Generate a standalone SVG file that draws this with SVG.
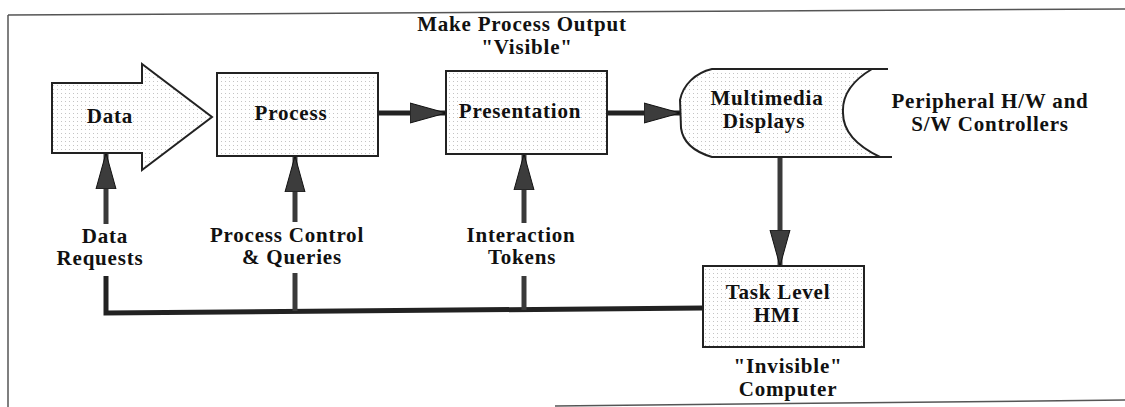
<svg xmlns="http://www.w3.org/2000/svg" width="1125" height="407" viewBox="0 0 1125 407">
  <defs>
    <!-- light stipple used to fill the blocks -->
    <pattern id="stipple" width="4" height="4" patternUnits="userSpaceOnUse">
      <rect width="4" height="4" fill="#ffffff"/>
      <rect x="1" y="1" width="1" height="1" fill="#c4c4c4"/>
    </pattern>
    <marker id="head" markerUnits="userSpaceOnUse" markerWidth="37" markerHeight="22" refX="36" refY="11" orient="auto" viewBox="0 0 37 22">
      <path d="M0,1 L36,11 L0,21 Z" fill="#3c3c3c" stroke="#111" stroke-width="1"/>
    </marker>
  </defs>
  <style>
    .lbl { font-family: "Liberation Serif", "Times New Roman", serif; font-weight: bold; font-size: 21px; letter-spacing: 0.8px; fill: #111; text-anchor: middle; }
    .box { fill: url(#stipple); stroke: #222; stroke-width: 2; }
    .frame { fill: none; stroke: #555; stroke-width: 1.5; }
    .wire { fill: none; stroke: #222; stroke-width: 5; }
    .feed { fill: none; stroke: #3a3a3a; stroke-width: 5; }
  </style>

  <!-- outer frame -->
  <g id="frame">
    <line class="frame" x1="8" y1="15" x2="1125" y2="9"/>
    <line class="frame" x1="8" y1="15" x2="8" y2="407"/>
    <line class="frame" x1="555" y1="406" x2="1125" y2="400"/>
  </g>

  <!-- connectors -->
  <g id="connectors">
    <line class="wire" x1="378" y1="113" x2="446" y2="113" marker-end="url(#head)"/>
    <line class="wire" x1="607" y1="113" x2="680" y2="113" marker-end="url(#head)"/>
    <line class="feed" x1="780" y1="157" x2="780" y2="266" marker-end="url(#head)"/>
    <!-- request bus -->
    <polyline class="wire" points="106,276 106,313 703,308"/>
    <line class="feed" x1="295" y1="311" x2="295" y2="273"/>
    <line class="feed" x1="524" y1="310" x2="524" y2="276"/>
    <!-- upward feeds above the labels -->
    <line class="feed" x1="106" y1="224" x2="106" y2="153" marker-end="url(#head)"/>
    <line class="feed" x1="295" y1="222" x2="295" y2="156" marker-end="url(#head)"/>
    <line class="feed" x1="524" y1="223" x2="524" y2="154" marker-end="url(#head)"/>
  </g>

  <g id="data">
    <path class="box" d="M52,83 L142,83 L142,64 L212,117 L142,170 L142,153 L52,153 Z"/>
    <text class="lbl" x="110" y="123">Data</text>
  </g>

  <g id="process">
    <rect class="box" x="217" y="73" width="161" height="83"/>
    <text class="lbl" x="291" y="120">Process</text>
  </g>

  <g id="presentation">
    <rect class="box" x="446" y="71" width="161" height="83"/>
    <text class="lbl" x="520" y="118">Presentation</text>
  </g>

  <g id="visible-note">
    <text class="lbl" x="522" y="31">Make Process Output</text>
    <text class="lbl" x="527" y="54">"Visible"</text>
  </g>

  <g id="multimedia">
    <path class="box" d="M712,69 L872,69 C850,82 842,97 843,113 C843,130 855,145 880,157 L712,157 C695,152 683,143 681,128 L680,100 C683,85 695,73 712,69 Z"/>
    <line x1="870" y1="69" x2="888" y2="69" stroke="#222" stroke-width="2"/>
    <line x1="878" y1="157" x2="892" y2="157" stroke="#222" stroke-width="2"/>
    <text class="lbl" x="767" y="105">Multimedia</text>
    <text class="lbl" x="764" y="128">Displays</text>
  </g>

  <g id="peripheral">
    <text class="lbl" x="990" y="108">Peripheral H/W and</text>
    <text class="lbl" x="990" y="131">S/W Controllers</text>
  </g>

  <g id="task-hmi">
    <rect class="box" x="703" y="266" width="161" height="81"/>
    <text class="lbl" x="778" y="299">Task Level</text>
    <text class="lbl" x="777" y="322">HMI</text>
    <text class="lbl" x="788" y="373">"Invisible"</text>
    <text class="lbl" x="788" y="396">Computer</text>
  </g>

  <g id="labels">
    <text class="lbl" x="105" y="243">Data</text>
    <text class="lbl" x="100" y="265">Requests</text>
    <text class="lbl" x="287" y="242">Process Control</text>
    <text class="lbl" x="292" y="264">&amp; Queries</text>
    <text class="lbl" x="521" y="242">Interaction</text>
    <text class="lbl" x="522" y="264">Tokens</text>
  </g>
</svg>
